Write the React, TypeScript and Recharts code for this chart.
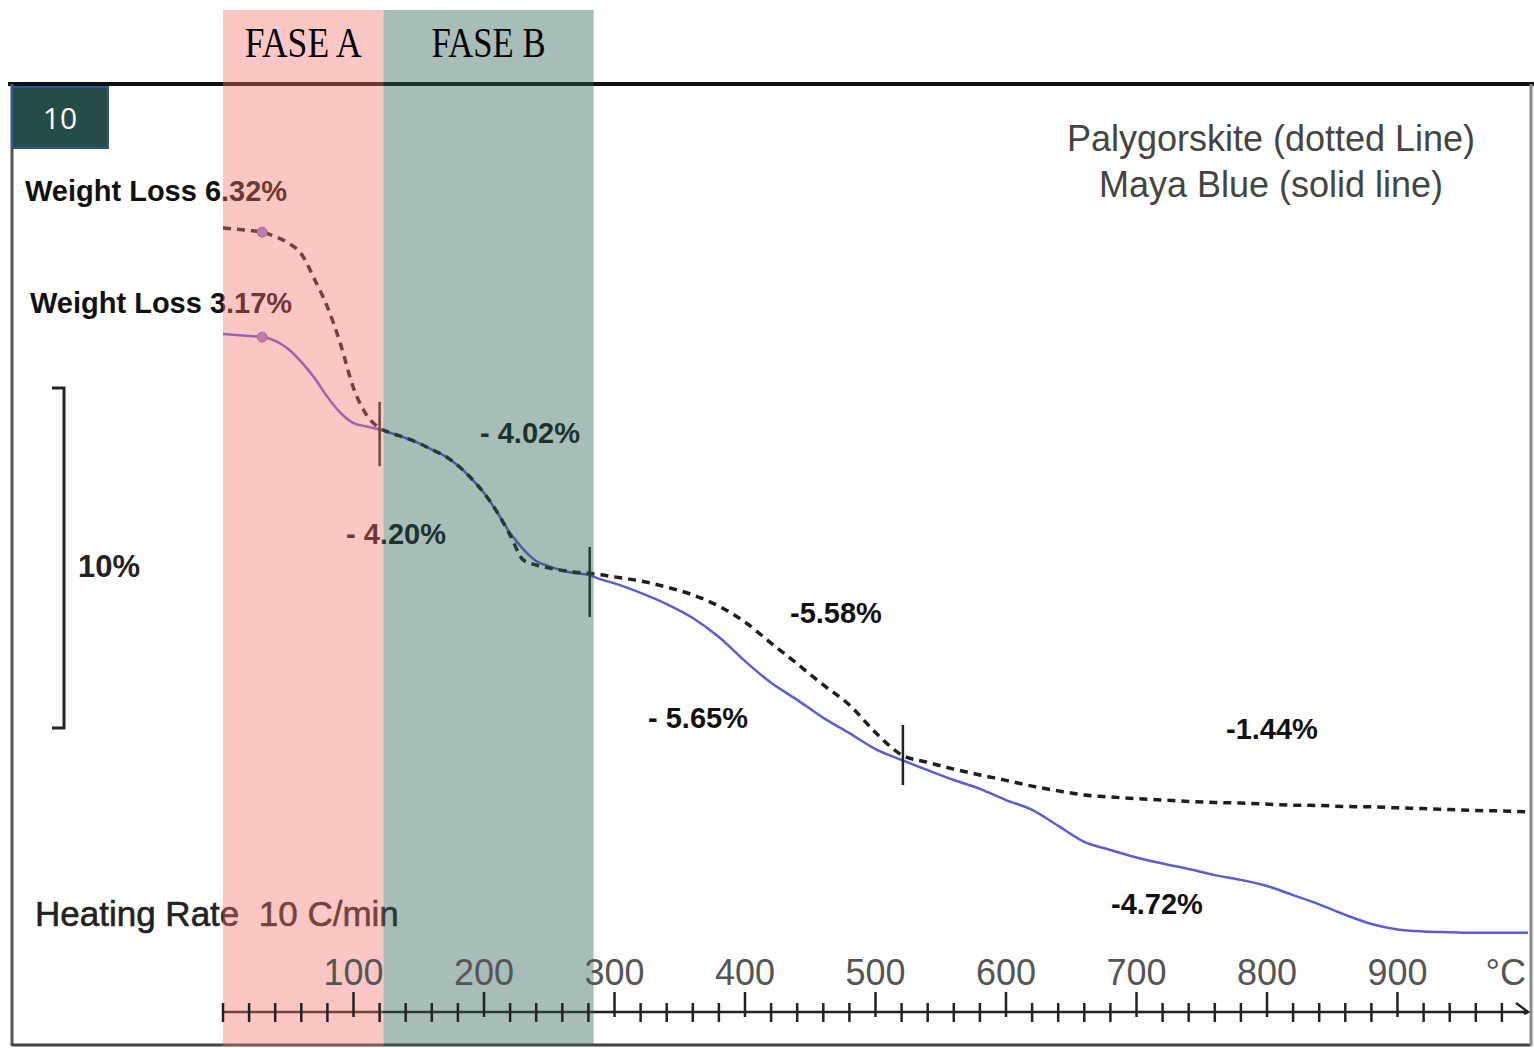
import { LineChart, Line, XAxis, YAxis, ReferenceArea, ReferenceLine, ReferenceDot } from 'recharts'

// temperature (°C) of the read points
const temperature = [
  0, 10, 20, 30, 40, 50, 60, 70, 80, 90, 100, 110, 120, 130, 140, 150, 160, 170, 180, 190, 200,
  210, 220, 230, 240, 250, 260, 270, 280, 290, 300, 320, 340, 360, 380, 400, 420, 440, 460, 480,
  500, 520, 540, 560, 580, 600, 620, 640, 660, 680, 700, 720, 740, 760, 780, 800, 820, 840, 860,
  880, 900, 920, 940, 960, 980, 1000
]

// Palygorskite, dotted line (weight %)
const palygorskite = [
  93.58, 93.55, 93.51, 93.46, 93.33, 93.14, 92.82, 92.08, 91.26, 90.17, 88.87, 88.08, 87.69, 87.53,
  87.4, 87.25, 87.06, 86.87, 86.59, 86.22, 85.78, 85.22, 84.54, 83.81, 83.66, 83.57, 83.5, 83.45,
  83.42, 83.37, 83.31, 83.19, 83.01, 82.78, 82.45, 81.98, 81.36, 80.75, 80.13, 79.54, 78.73, 78.07,
  77.85, 77.65, 77.48, 77.32, 77.15, 77.01, 76.89, 76.83, 76.78, 76.74, 76.7, 76.67, 76.65, 76.62,
  76.59, 76.58, 76.55, 76.54, 76.51, 76.49, 76.46, 76.43, 76.42, 76.39
]

// Maya Blue, solid line (weight %)
const mayaBlue = [
  90.46, 90.43, 90.4, 90.37, 90.26, 90.02, 89.64, 89.17, 88.61, 88.14, 87.84, 87.74, 87.65, 87.53,
  87.4, 87.25, 87.06, 86.87, 86.59, 86.22, 85.78, 85.22, 84.6, 84.13, 83.78, 83.62, 83.5, 83.42,
  83.37, 83.23, 83.12, 82.84, 82.51, 82.1, 81.54, 80.83, 80.19, 79.69, 79.16, 78.71, 78.24, 77.92,
  77.62, 77.33, 77.07, 76.74, 76.45, 75.98, 75.51, 75.27, 75.05, 74.87, 74.71, 74.53, 74.39, 74.21,
  73.94, 73.67, 73.36, 73.09, 72.93, 72.87, 72.85, 72.83, 72.83, 72.83
]

const phaseNames = ['FASE A', 'FASE B']
const phaseFrom = [0, 123]
const phaseTo = [123, 284]

// step boundaries marked on the curves
const stepTemps = [120, 281, 521]
const stepTop = [88.46, 84.19, 78.95]
const stepBottom = [86.57, 82.13, 77.18]

const startTemp = 30
const startWeights = [93.46, 90.37]

const legendLines = ['Palygorskite (dotted Line)', 'Maya Blue (solid line)']
const weightLossLabels = ['Weight Loss 6.32%', 'Weight Loss 3.17%']
const stepLabels = ['- 4.02%', '- 4.20%', '-5.58%', '- 5.65%', '-1.44%', '-4.72%']

const tempTicks = Array.from({ length: 51 }, (_, i) => i * 20)

const data = temperature.map((t, i) => ({
  t,
  paly: palygorskite[i],
  maya: mayaBlue[i]
}))

const SANS = '"Liberation Sans", Arial, sans-serif'

function TempTick(props: any) {
  const { x, y, payload } = props
  const v = payload.value
  if (v === 1000) {
    return (
      <g>
        <polyline points={`${x - 12},${y - 9} ${x},${y} ${x - 4},${y + 2}`} fill="none" stroke="#222" strokeWidth={2.5} />
        <text x={x - 2} y={y - 27} textAnchor="end" fontFamily={SANS} fontSize={36} fill="#555">°C</text>
      </g>
    )
  }
  const major = v > 0 && v % 100 === 0
  return (
    <g>
      <line x1={x} x2={x} y1={major ? y - 20 : y - 9} y2={major ? y + 5 : y + 10} stroke="#222" strokeWidth={2.5} />
      {major && (
        <text x={x} y={y - 27} textAnchor="middle" fontFamily={SANS} fontSize={36} fill="#555">{v}</text>
      )}
    </g>
  )
}

function PhaseLabel(props: any) {
  const { viewBox, text } = props
  if (!viewBox) return null
  return (
    <text
      x={viewBox.x + viewBox.width / 2}
      y={viewBox.y + 47}
      textAnchor="middle"
      fontFamily='"Liberation Serif", "Times New Roman", serif'
      fontSize={42}
      fill="#000"
      textLength={text === 'FASE A' ? 117 : 114}
      lengthAdjust="spacingAndGlyphs"
    >
      {text}
    </text>
  )
}

function Underlay() {
  const bold = { fontFamily: SANS, fontWeight: 700, fontSize: 29, fill: '#111' }
  return (
    <svg width={1534} height={1048} style={{ position: 'absolute', left: 0, top: 0 }}>
      {/* frame */}
      <line x1={8} x2={1534} y1={84} y2={84} stroke="#111" strokeWidth={4} />
      <line x1={12} x2={12} y1={84} y2={1046} stroke="#555" strokeWidth={3} />
      <line x1={12} x2={1531} y1={1045} y2={1045} stroke="#444" strokeWidth={3} />
      <line x1={1531} x2={1531} y1={84} y2={1046} stroke="#888" strokeWidth={3} />

      {/* slide number */}
      <rect x={12} y={87} width={96} height={61} fill="#264c47" stroke="#2f5597" strokeWidth={2} />
      <text x={60} y={129} textAnchor="middle" fontFamily='"Open Sans", sans-serif' fontSize={30} fill="#fff">10</text>

      <text x={25} y={201} {...bold}>{weightLossLabels[0]}</text>
      <text x={30} y={313} {...bold}>{weightLossLabels[1]}</text>

      {/* 10 % scale bar */}
      <path d="M52 388 H64 V728 H52" fill="none" stroke="#222" strokeWidth={3} />
      <text x={78} y={577} fontFamily={SANS} fontWeight={700} fontSize={31} fill="#222">10%</text>

      <text x={1271} y={151} textAnchor="middle" fontFamily={SANS} fontSize={36} fill="#444">{legendLines[0]}</text>
      <text x={1271} y={197} textAnchor="middle" fontFamily={SANS} fontSize={36} fill="#444">{legendLines[1]}</text>

      <text x={480} y={443} {...bold}>{stepLabels[0]}</text>
      <text x={346} y={544} {...bold}>{stepLabels[1]}</text>
      <text x={790} y={623} {...bold}>{stepLabels[2]}</text>
      <text x={648} y={728} {...bold}>{stepLabels[3]}</text>
      <text x={1226} y={739} {...bold}>{stepLabels[4]}</text>
      <text x={1111} y={914} {...bold}>{stepLabels[5]}</text>

      <text
        x={35}
        y={926}
        fontFamily={SANS}
        fontSize={35}
        fill="#222"
        stroke="#222"
        strokeWidth={0.6}
        style={{ whiteSpace: 'pre' }}
      >
        Heating Rate  10 C/min
      </text>
    </svg>
  )
}

export default function App() {
  return (
    <div style={{ position: 'absolute', left: 0, top: 0, width: 1534, height: 1048, background: '#fff' }}>
      <Underlay />
      <div style={{ position: 'absolute', left: 0, top: 0 }}>
        <LineChart width={1534} height={1048} data={data} margin={{ top: 10, right: 6, bottom: 2, left: 223 }}>
          <XAxis
            dataKey="t"
            type="number"
            domain={[0, 1000]}
            ticks={tempTicks}
            interval={0}
            tickSize={0}
            tickMargin={0}
            tickLine={false}
            axisLine={{ stroke: '#222', strokeWidth: 2.5 }}
            tick={(p: any) => <TempTick {...p} />}
            height={34}
          />
          <YAxis hide type="number" domain={[70.5, 100]} allowDataOverflow />
          <Line
            dataKey="maya"
            type="monotone"
            stroke="#5c5cd4"
            strokeWidth={2.5}
            dot={false}
            activeDot={false}
            isAnimationActive={false}
          />
          <Line
            dataKey="paly"
            type="monotone"
            stroke="#1e1e1e"
            strokeWidth={3.5}
            strokeDasharray="8 6"
            dot={false}
            activeDot={false}
            isAnimationActive={false}
          />
          {stepTemps.map((t, i) => (
            <ReferenceLine
              key={t}
              segment={[{ x: t, y: stepTop[i] }, { x: t, y: stepBottom[i] }]}
              stroke="#222"
              strokeWidth={2.5}
            />
          ))}
          {startWeights.map(w => (
            <ReferenceDot key={w} x={startTemp} y={w} r={5} fill="#9a82cc" stroke="#7e63b8" strokeWidth={1} />
          ))}
          {phaseNames.map((name, i) => (
            <ReferenceArea
              key={name}
              x1={phaseFrom[i]}
              x2={phaseTo[i]}
              y1={69.5}
              y2={100}
              ifOverflow="visible"
              fill={i === 0 ? '#f5736d' : '#306055'}
              fillOpacity={i === 0 ? 0.4 : 0.42}
              stroke="none"
              zIndex={1500}
              label={(p: any) => <PhaseLabel {...p} text={name} />}
            />
          ))}
        </LineChart>
      </div>
    </div>
  )
}
